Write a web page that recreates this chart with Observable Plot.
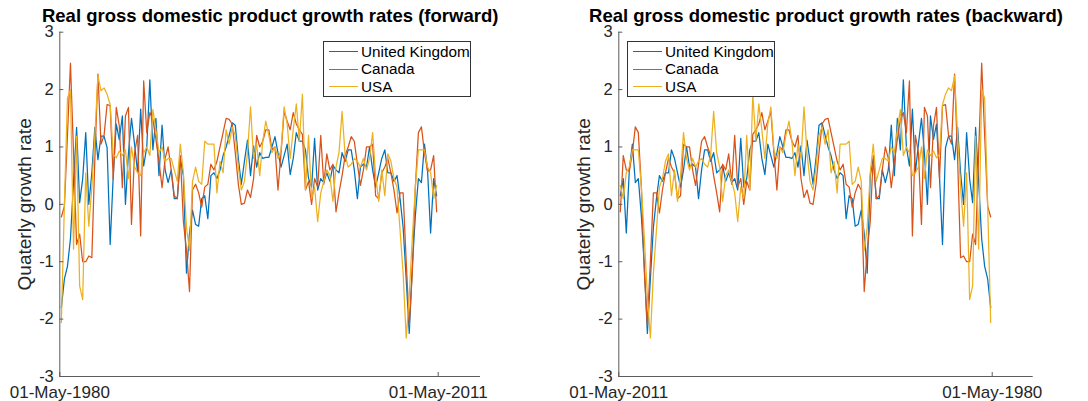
<!DOCTYPE html>
<html><head><meta charset="utf-8">
<script src="https://cdn.jsdelivr.net/npm/d3@7"></script>
<script src="https://cdn.jsdelivr.net/npm/@observablehq/plot@0.6"></script>
<style>
body{margin:0;background:#fff;}
#wrap{position:relative;width:1088px;height:401px;overflow:hidden;background:#fff;font-family:'Liberation Sans',Arial,Helvetica,sans-serif;}
.panel{position:absolute;top:0;}
.legend{position:absolute;top:41px;height:56px;border:1px solid #333;background:#fff;box-sizing:border-box;}
.legend .sw{position:absolute;height:0;border-top:1.3px solid;width:29px;}
.legend .lab{position:absolute;font-size:15.3px;line-height:18px;color:#000;white-space:nowrap;}
</style></head><body><div id="wrap"></div>
<script>
const seriesNames = ["United Kingdom", "Canada", "USA"];
const seriesColors = ["#0072BD", "#D95319", "#EDB120"];
const firstObservation = "1980-06-16"; // quarterly observations from here on
const ukGrowth = [
-1.8, -1.3, -1.08, -0.6, 0.4, 1.34, 0.03, 0.44, 1.25, 0.0,
0.55, 1.34, 0.78, 1.19, 1.19, 0.99, -0.7, 0.5, 1.4, 1.13,
1.54, 0.0, 0.9, 1.5, 1.05, 0.55, 1.66, 0.67, 1.0, 2.17,
0.95, 1.5, 0.5, 1.38, 0.6, 0.38, 0.6, 0.1, 0.1, 0.8,
0.5, -1.2, -0.5, -0.1, -0.35, -0.38, 0.1, 0.15, -0.25, 0.5,
0.55, 0.45, 0.6, 0.85, 1.0, 1.2, 1.42, 1.38, 0.8, 0.35,
0.75, 1.12, 0.5, 1.02, 0.65, 0.9, 0.8, 0.82, 0.82, 1.0,
1.18, 0.9, 0.65, 0.85, 1.05, 0.52, 0.8, 1.25, 1.1, 1.1,
0.95, 0.45, 0.3, 1.15, 0.25, 0.45, 0.38, 0.55, 0.4, 0.68,
0.6, 0.55, 0.9, 0.75, 0.95, 0.95, 0.6, 0.1, 0.65, 0.7,
0.65, 1.0, 0.6, 0.3, 0.55, 0.8, 0.95, 0.55, 0.55, 0.4,
0.5, 0.1, -0.4, -1.3, -2.25, -1.1, -0.2, 0.45, 0.38, 1.05,
0.6, -0.5, 0.45, 0.15];
const canadaGrowth = [
-0.22, -0.03, 1.2, 2.46, 0.9, -0.7, -0.52, -1.0, -1.0, -0.9,
-0.93, 0.8, 2.27, 1.05, 1.2, 1.74, 1.72, 0.44, 1.69, 1.37,
0.29, 1.54, 1.69, -0.35, 0.9, 1.2, -0.55, 2.15, 1.25, 1.6,
1.48, 1.13, 0.75, 0.29, 0.8, 1.0, 0.6, 0.15, 0.1, 0.85,
-0.3, -0.8, -1.52, 0.25, 0.35, 0.2, -0.05, 0.3, 0.35, 0.7,
0.6, 0.75, 1.0, 1.25, 1.5, 1.48, 1.4, 0.9, 0.35, 0.0,
0.02, 0.25, 0.12, 0.45, 1.2, 1.0, 1.1, 1.3, 1.3, 0.95,
1.0, 0.25, 0.9, 1.62, 1.45, 1.3, 1.6, 1.4, 1.3, 1.22,
0.25, 0.4, 0.0, 0.45, 0.3, 1.2, 0.35, 0.88, 0.6, 0.7,
-0.13, 0.2, 0.5, 0.85, 1.0, 1.18, 1.1, 0.7, 0.33, 0.6,
1.0, 1.0, 1.05, 0.15, 0.1, 0.55, 0.65, 0.8, 0.55, 0.25,
-0.15, 0.2, 0.2, -1.0, -2.1, -1.2, 0.3, 1.25, 1.35, 0.9,
0.58, 0.6, 0.85, -0.13];
const usaGrowth = [
-2.06, 0.0, 1.85, 2.0, -0.78, 1.19, -1.42, -1.66, 0.55, -0.38,
0.3, 1.2, 2.24, 1.98, 2.03, 1.92, 1.74, 0.87, 0.81, 0.93,
0.85, 0.95, 0.45, 1.0, 0.65, 0.55, 0.5, 0.9, 1.0, 0.85,
1.65, 1.3, 0.9, 1.0, 0.75, 0.8, 0.8, 0.6, 0.4, 1.05,
0.55, -0.4, -0.8, 0.4, 0.65, 0.4, 0.35, 1.1, 1.05, 1.05,
1.05, 0.2, 0.75, 0.55, 1.3, 1.05, 1.35, 1.2, 0.65, 0.25,
0.4, 0.9, 1.7, 0.8, 1.05, 0.5, 1.1, 1.45, 1.2, 0.9,
1.0, 0.8, 0.95, 1.7, 1.4, 0.8, 1.3, 1.75, 1.1, 1.92,
0.25, 1.2, 0.1, 0.3, -0.3, 0.2, 0.4, 0.6, 0.5, 0.05,
0.65, 0.9, 1.62, 0.85, 0.65, 0.7, 0.8, 0.75, 0.65, 0.8,
0.6, 0.8, 1.25, 0.5, 0.05, 0.6, 0.15, 0.88, 0.75, 0.45,
0.3, -0.45, -1.2, -2.33, -1.6, -0.6, 0.3, 0.95, 0.95, 0.95,
0.65, 0.55, 0.1, 0.33];
const yTicks = [-3, -2, -1, 0, 1, 2, 3];
const xTickDates = ["1980-05-01", "2011-05-01"];
const titles = ["Real gross domestic product growth rates (forward)", "Real gross domestic product growth rates (backward)"];
const yLabel = "Quaterly growth rate";

const FONT = "'Liberation Sans', Arial, Helvetica, sans-serif";
const AXIS = "#5c5c5c";
const start = new Date(firstObservation);
const allSeries = [ukGrowth, canadaGrowth, usaGrowth].map((vals, s) =>
  vals.map((v, i) => ({series: seriesNames[s], date: d3.utcMonth.offset(start, 3 * i), value: v})));
const xTicks = xTickDates.map(d => new Date(d));
const fmt = d3.utcFormat("%d-%b-%Y");

function makePanel({title, domain, width, marginLeft, marginRight}) {
  const H = 401, mt = 31.7, mb = 25;
  const fw = width - marginLeft - marginRight, fh = H - mt - mb;
  return Plot.plot({
    width, height: H, marginLeft, marginRight, marginTop: mt, marginBottom: mb,
    style: {fontFamily: FONT, fontSize: "17px", color: "#262626", background: "transparent", overflow: "visible"},
    x: {type: "utc", domain, label: null},
    y: {domain: [-3, 3], label: null},
    marks: [
      ...allSeries.map((d, s) => Plot.line(d, {x: "date", y: "value", stroke: seriesColors[s], strokeWidth: 1.25})),
      Plot.ruleX([domain[0]], {stroke: AXIS, strokeWidth: 1}),
      Plot.ruleY([-3], {stroke: AXIS, strokeWidth: 1}),
      Plot.tickY(yTicks, {y: d => d, stroke: AXIS, insetRight: fw - 4}),
      Plot.tickX(xTicks, {x: d => d, stroke: AXIS, insetTop: fh - 4}),
      Plot.axisY(yTicks, {tickSize: 0, tickPadding: 6, fontSize: 16.5, label: null, tickFormat: d => String(d)}),
      Plot.axisX(xTicks, {tickSize: 0, tickPadding: 9, tickFormat: fmt, fontSize: 17, label: null}),
      Plot.text([title], {frameAnchor: "top", dy: -16, textAnchor: "middle", lineAnchor: "middle", fontWeight: "bold", fontSize: 18.5, fill: "#000"}),
      Plot.text([yLabel], {frameAnchor: "left", dx: -34.6, rotate: -90, textAnchor: "middle", lineAnchor: "middle", fontSize: 19, fill: "#262626"})
    ]
  });
}

const wrap = document.getElementById("wrap");
const day = 864e5;
const p1 = makePanel({title: titles[0], width: 540, marginLeft: 59.3, marginRight: 60,
  domain: [new Date("1980-05-01"), new Date(+new Date("2011-05-01") + 1266 * day)]});
const p2 = makePanel({title: titles[1], width: 548, marginLeft: 78.3, marginRight: 55.3,
  domain: [new Date("2011-05-01"), new Date(+new Date("1980-05-01") - 1243 * day)]});
p1.classList.add("panel"); p1.style.left = "0px";
p2.classList.add("panel"); p2.style.left = "540px";
wrap.appendChild(p1); wrap.appendChild(p2);

function legend(left) {
  const box = document.createElement("div");
  box.className = "legend";
  box.style.left = left + "px";
  box.style.width = "148px";
  const centers = [10.7, 28.3, 45.7];
  seriesNames.forEach((name, i) => {
    const sw = document.createElement("div");
    sw.className = "sw";
    sw.style.left = "5px"; sw.style.top = (centers[i] - 1.6) + "px";
    sw.style.borderTopColor = seriesColors[i];
    const lab = document.createElement("div");
    lab.className = "lab";
    lab.style.left = "37px"; lab.style.top = (centers[i] - 10) + "px";
    lab.textContent = name;
    box.appendChild(sw); box.appendChild(lab);
  });
  wrap.appendChild(box);
}
legend(323);
legend(627);
</script></body></html>
